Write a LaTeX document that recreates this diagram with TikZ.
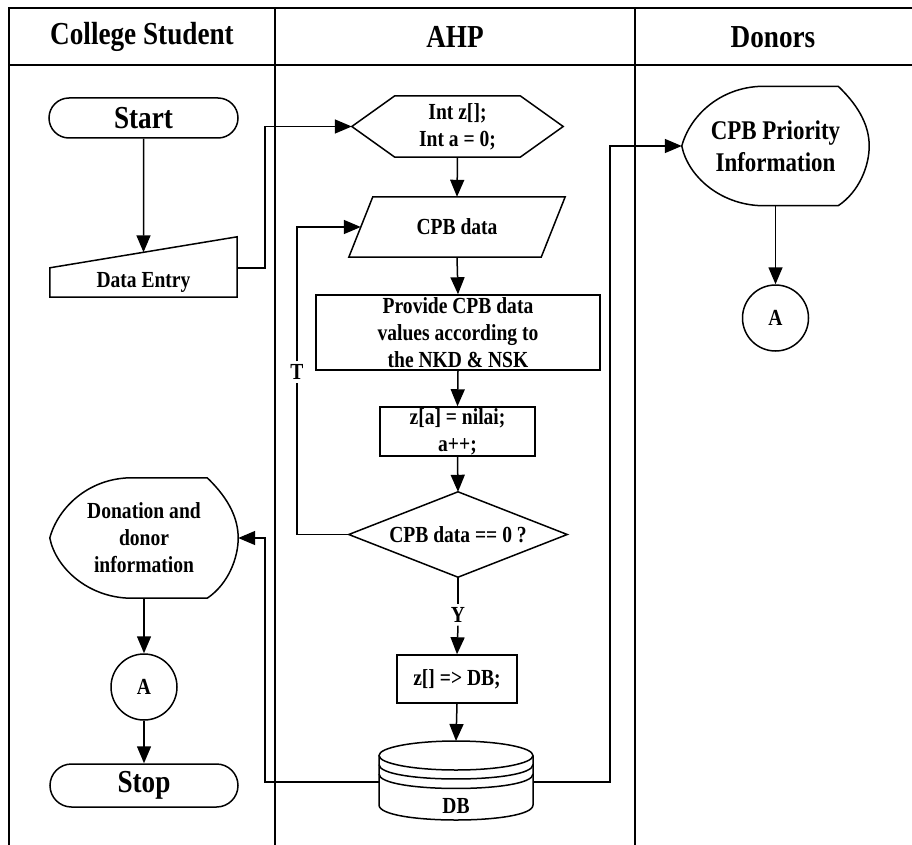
\documentclass[tikz,border=0pt]{standalone}
\usepackage{fontspec}
\setmainfont{Liberation Serif}[FakeStretch=0.85]
\usetikzlibrary{arrows.meta,calc,shapes.misc}
\newcommand\fhead{\fontsize{32}{36}\selectfont\bfseries}
\newcommand\fbig{\fontsize{32}{36}\selectfont\bfseries}
\newcommand\fmid{\fontsize{27}{32}\selectfont\bfseries}
\newcommand\ftxt{\fontsize{23}{27}\selectfont\bfseries}
\newcommand\dispout[1]{\draw[line] ($(#1.north west)+(80,0)$) -- ($(#1.north east)+(-31,0)$)
 .. controls ($(#1.north east)+(-8,22)$) and ($(#1.east)+(0,-18)$) .. (#1.east)
 .. controls ($(#1.east)+(0,20)$) and ($(#1.south east)+(-10,-14)$) .. ($(#1.south east)+(-31,0)$)
 -- ($(#1.south west)+(80,0)$)
 .. controls ($(#1.south west)+(38,-1)$) and ($(#1.west)+(6,30)$) .. (#1.west)
 .. controls ($(#1.west)+(8,-30)$) and ($(#1.north west)+(38,1)$) .. ($(#1.north west)+(80,0)$) -- cycle;}
\newcommand\hexout[1]{\draw[line] (#1.west) -- ($(#1.north west)+(43,0)$) -- ($(#1.north east)+(-43,0)$) -- (#1.east) -- ($(#1.south east)+(-43,0)$) -- ($(#1.south west)+(43,0)$) -- cycle;}
\newcommand\paraout[1]{\draw[line] (#1.south west) -- ($(#1.north west)+(24,0)$) -- (#1.north east) -- ($(#1.south east)+(-24,0)$) -- cycle;}
\newcommand\diaout[1]{\draw[line] (#1.north) -- (#1.east) -- (#1.south) -- (#1.west) -- cycle;}
\newcommand\manout[1]{\draw[line] (#1.south west) -- ($(#1.north west)$) -- ($(#1.north east)+(0,-31)$) -- (#1.south east) -- cycle;}
\begin{document}
\begin{tikzpicture}[x=1pt,y=-1pt,
  line/.style={line width=1.5pt, black},
  arr/.style={line, -{Triangle[length=17pt,width=14pt]}},
  lane/.style={line width=1.6pt, black},
  shapebox/.style={rectangle, align=center, inner sep=0pt, font=\ftxt},
  box/.style={shapebox, draw, line width=1.5pt},
  term/.style={rounded rectangle, draw, line width=1.5pt, inner sep=0pt, font=\fbig},
  conn/.style={circle, draw, line width=1.5pt, minimum size=66pt, inner sep=0pt, font=\ftxt},
  lbl/.style={inner sep=3pt, font=\ftxt},
  head/.style={inner sep=0pt, font=\fhead}
]
\useasboundingbox (0,0) rectangle (912,845);
% swimlane frame
\draw[lane] (9,845) -- (9,8) -- (912,8);
\draw[lane] (9,65) -- (912,65);
\draw[lane] (275,8) -- (275,845);
\draw[lane] (635,8) -- (635,845);
\node[head] (h1) at (142,37) {College Student};
\node[head] (h2) at (455,37) {AHP};
\node[head] (h3) at (773,37) {Donors};

% College student lane
\node[term, minimum width=189pt, minimum height=40pt] (start) at (143.5,118) {Start};
\node[shapebox, minimum width=187pt, minimum height=29pt] (de) at (143.5,282.5) {Data Entry};
\manout{de}
\coordinate (detop) at ($(de.north west)!0.5!(de.north east)+(0,-15.5)$);
\node[shapebox, minimum width=188pt, minimum height=120pt] (don) at (144,538) {Donation and\\donor\\information};
\dispout{don}
\node[conn] (donA) at (144,687) {A};
\node[term, minimum width=188pt, minimum height=43pt] (stop) at (144,785.5) {Stop};

% AHP lane
\node[shapebox, minimum width=211pt, minimum height=61pt] (hex) at (457.5,126.5) {Int z[];\\Int a = 0;};
\hexout{hex}
\node[shapebox, minimum width=216pt, minimum height=60pt] (para) at (457,227) {CPB data};
\paraout{para}
\coordinate (paraL) at ($(para.south west)!0.5!($(para.north west)+(24,0)$)$);
\node[box, minimum width=284pt, minimum height=75pt] (prov) at (458,332.5) {Provide CPB data\\values according to\\the NKD \& NSK};
\node[box, minimum width=155pt, minimum height=49pt] (za) at (457.5,431.5) {z[a] = nilai;\\a++;};
\node[shapebox, minimum width=218pt, minimum height=85pt] (dia) at (458,534.5) {CPB data == 0 ?};
\diaout{dia}
\node[lbl] (tlab) at (297,372) {T};
\node[lbl] (ylab) at (458,615) {Y};
\node[box, minimum width=120pt, minimum height=48pt] (zdb) at (457,679) {z[] => DB;};
\node[shapebox, minimum width=154pt, minimum height=30pt] (db) at (456,806) {DB};
\draw[line] ($(db.center)+(-77,-50.5)$) -- ($(db.center)+(-77,-1)$)
  .. controls ($(db.center)+(-77,19)$) and ($(db.center)+(77,19)$) .. ($(db.center)+(77,-1)$)
  -- ($(db.center)+(77,-50.5)$);
\draw[line] ($(db.center)+(0,-50.5)$) ellipse [x radius=77, y radius=14.5];
\draw[line] ($(db.center)+(-77,-41.5)$) .. controls ($(db.center)+(-77,-22.2)$) and ($(db.center)+(77,-22.2)$) .. ($(db.center)+(77,-41.5)$);
\draw[line] ($(db.center)+(-77,-32)$) .. controls ($(db.center)+(-77,-12.7)$) and ($(db.center)+(77,-12.7)$) .. ($(db.center)+(77,-32)$);
\coordinate (dbT) at ($(db.center)+(0,-65)$);
\coordinate (dbL) at ($(db.center)+(-77,-24)$);
\coordinate (dbR) at ($(db.center)+(77,-24)$);

% Donors lane
\node[shapebox, font=\fmid, minimum width=187pt, minimum height=119pt] (cpb) at (775.5,146) {CPB Priority\\Information};
\dispout{cpb}
\node[conn] (cpbA) at (775.5,318) {A};

% connectors
\draw[arr] (start.south) -- (detop);
\draw[arr] (de.north east) -- ++(28,0) |- (hex.west);
\draw[arr] (hex.south) -- (para.north);
\draw[arr] (para.south) -- (prov.north);
\draw[arr] (prov.south) -- (za.north);
\draw[arr] (za.south) -- (dia.north);
\draw[line] (dia.west) -| (tlab.south);
\draw[arr] (tlab.north) |- (paraL);
\draw[line] (dia.south) -- (ylab.north);
\draw[arr] (ylab.south) -- (zdb.north);
\draw[arr] (zdb.south) -- (dbT);
\draw[arr] (dbL) -- ++(-114,0) |- (don.east);
\draw[arr] (dbR) -- ++(77,0) |- (cpb.west);
\draw[arr] (cpb.south) -- (cpbA.north);
\draw[arr] (don.south) -- (donA.north);
\draw[arr] (donA.south) -- (stop.north);
\end{tikzpicture}
\end{document}
